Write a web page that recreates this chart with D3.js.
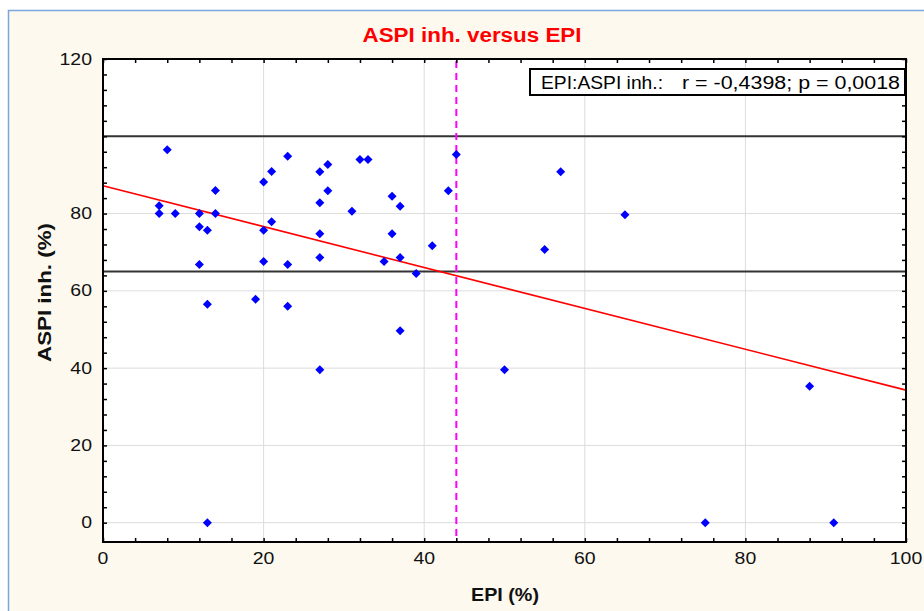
<!DOCTYPE html>
<html>
<head>
<meta charset="utf-8">
<script src="https://cdn.jsdelivr.net/npm/d3@7"></script>
<style>
  html, body { margin: 0; padding: 0; background: #ffffff; }
  svg { display: block; font-family: "Liberation Sans", Arial, sans-serif; }
</style>
</head>
<body>
<script>
// EPI (%) vs ASPI inh. (%)
const epi = [8, 7, 7, 9, 12, 12, 13, 14, 14, 12, 13, 13, 19, 20, 20, 20, 21, 21, 23, 23, 23,
	27, 27, 27, 27, 27, 28, 28, 31, 32, 33, 35, 36, 36, 37, 37, 37, 39, 41, 43, 44, 50, 55, 57, 65, 75, 88, 91];
const aspi = [96.5, 82, 80, 80, 80, 76.6, 75.7, 86, 80, 66.8, 56.5, 0, 57.8, 88.2, 75.7, 67.6, 90.9, 77.9, 94.8, 66.8, 56,
	90.8, 82.8, 74.8, 68.6, 39.6, 92.7, 85.9, 80.6, 94, 94, 67.6, 84.5, 74.8, 81.9, 68.6, 49.7, 64.5, 71.7, 85.9, 95.3, 39.6, 70.7, 90.8, 79.7, 0, 35.3, 0];

const xTicks = [0, 20, 40, 60, 80, 100];
const yTicks = [0, 20, 40, 60, 80, 120];
const refLines = [100, 65];
const epiCut = 44;
const fitIntercept = 87.2;
const fitSlope = -0.529;
const legendLabel = "EPI:ASPI inh.:";
const legendStats = "r = -0,4398; p = 0,0018";

const width = 924, height = 611;
const plot = { left: 103, right: 906, top: 59, bottom: 542 };
const stretch = 1.18;  // the original's lettering is a bit wide

const svg = d3.select("body").append("svg")
	.attr("width", width)
	.attr("height", height);

// panel background + blue frame
svg.append("rect").attr("x", 8).attr("y", 10).attr("width", width - 8).attr("height", height - 10)
	.attr("fill", "#fdf9ef");
svg.append("path").attr("d", `M8.5,${height} V10.5 H${width}`)
	.attr("fill", "none").attr("stroke", "#7aa6dc").attr("stroke-width", 1.5);

const x = d3.scaleLinear().domain([0, 100]).range([plot.left, plot.right]);
const y = d3.scaleLinear().domain([-5, 120]).range([plot.bottom, plot.top]);

svg.append("rect")
	.attr("x", plot.left).attr("y", plot.top)
	.attr("width", plot.right - plot.left).attr("height", plot.bottom - plot.top)
	.attr("fill", "#ffffff");

// grid
svg.append("g").selectAll("line").data(xTicks.slice(1, -1)).join("line")
	.attr("x1", d => x(d)).attr("x2", d => x(d))
	.attr("y1", plot.top).attr("y2", plot.bottom)
	.attr("stroke", "#dcdcdc").attr("stroke-width", 1);
svg.append("g").selectAll("line").data(yTicks.filter(d => d < 120)).join("line")
	.attr("x1", plot.left).attr("x2", plot.right)
	.attr("y1", d => y(d)).attr("y2", d => y(d))
	.attr("stroke", "#dcdcdc").attr("stroke-width", 1);

// reference lines
svg.append("g").selectAll("line").data(refLines).join("line")
	.attr("x1", plot.left).attr("x2", plot.right)
	.attr("y1", d => y(d)).attr("y2", d => y(d))
	.attr("stroke", "#333333").attr("stroke-width", 2);

// regression line
svg.append("line")
	.attr("x1", x(0)).attr("y1", y(fitIntercept))
	.attr("x2", x(100)).attr("y2", y(fitIntercept + fitSlope * 100))
	.attr("stroke", "#ff0000").attr("stroke-width", 1.6);

// EPI cut-off
svg.append("line")
	.attr("x1", x(epiCut)).attr("x2", x(epiCut))
	.attr("y1", plot.top + 2).attr("y2", plot.bottom)
	.attr("stroke", "#ff00ff").attr("stroke-width", 2)
	.attr("stroke-dasharray", "7,5");

// points
const diamond = "M0,-4.5 L4.5,0 L0,4.5 L-4.5,0 Z";
svg.append("g").selectAll("path").data(epi.map((e, i) => [e, aspi[i]])).join("path")
	.attr("d", diamond)
	.attr("transform", d => `translate(${x(d[0])},${y(d[1])})`)
	.attr("fill", "#0000ff");

// axes (ticks inside the frame)
const xAxis = svg.append("g").attr("transform", `translate(0,${plot.bottom})`)
	.call(d3.axisTop(x).tickValues(d3.range(0, 101, 4)).tickSize(4).tickFormat(""));
const xTop = svg.append("g").attr("transform", `translate(0,${plot.top})`)
	.call(d3.axisBottom(x).tickValues(d3.range(0, 101, 4)).tickSize(4).tickFormat(""));
const yAxis = svg.append("g").attr("transform", `translate(${plot.left},0)`)
	.call(d3.axisRight(y).tickValues(d3.range(0, 121, 4)).tickSize(4).tickFormat(""));
const yRight = svg.append("g").attr("transform", `translate(${plot.right},0)`)
	.call(d3.axisLeft(y).tickValues(d3.range(0, 121, 4)).tickSize(4).tickFormat(""));
[xAxis, xTop, yAxis, yRight].forEach(g => {
	g.select(".domain").remove();
	g.selectAll("line").attr("stroke", "#000").attr("stroke-width", 1.5);
});

// frame
svg.append("rect")
	.attr("x", plot.left).attr("y", plot.top)
	.attr("width", plot.right - plot.left).attr("height", plot.bottom - plot.top)
	.attr("fill", "none").attr("stroke", "#000").attr("stroke-width", 2);

// tick labels
svg.append("g").selectAll("text").data(xTicks).join("text")
	.attr("transform", d => `translate(${x(d)},${plot.bottom + 22}) scale(${stretch},1)`)
	.attr("text-anchor", "middle")
	.attr("font-size", 16.5).attr("fill", "#111")
	.text(d => d);
svg.append("g").selectAll("text").data(yTicks).join("text")
	.attr("transform", d => `translate(${plot.left - 11},${y(d) + 5.5}) scale(${stretch},1)`)
	.attr("text-anchor", "end")
	.attr("font-size", 16.5).attr("fill", "#111")
	.text(d => d);

// titles
svg.append("text")
	.attr("x", 472 - 109.5).attr("y", 42)
	.attr("textLength", 219).attr("lengthAdjust", "spacingAndGlyphs")
	.attr("font-size", 19.5).attr("font-weight", "bold").attr("fill", "#ff0000")
	.text("ASPI inh. versus EPI");
svg.append("text")
	.attr("x", 471).attr("y", 601)
	.attr("textLength", 68).attr("lengthAdjust", "spacingAndGlyphs")
	.attr("font-size", 18).attr("font-weight", "bold").attr("fill", "#111")
	.text("EPI (%)");
svg.append("text")
	.attr("transform", `translate(51,362) rotate(-90)`)
	.attr("textLength", 139).attr("lengthAdjust", "spacingAndGlyphs")
	.attr("font-size", 19).attr("font-weight", "bold").attr("fill", "#111")
	.text("ASPI inh. (%)");

// legend box
const legend = svg.append("g").attr("transform", "translate(530,69)");
legend.append("rect").attr("width", 375).attr("height", 26)
	.attr("fill", "#ffffff").attr("stroke", "#000").attr("stroke-width", 2);
legend.append("text").attr("x", 11).attr("y", 19.5)
	.attr("textLength", 122).attr("lengthAdjust", "spacingAndGlyphs")
	.attr("font-size", 18).attr("fill", "#000")
	.text(legendLabel);
legend.append("text").attr("x", 152).attr("y", 19.5)
	.attr("textLength", 218).attr("lengthAdjust", "spacingAndGlyphs")
	.attr("font-size", 18).attr("fill", "#000")
	.text(legendStats);
</script>
</body>
</html>
